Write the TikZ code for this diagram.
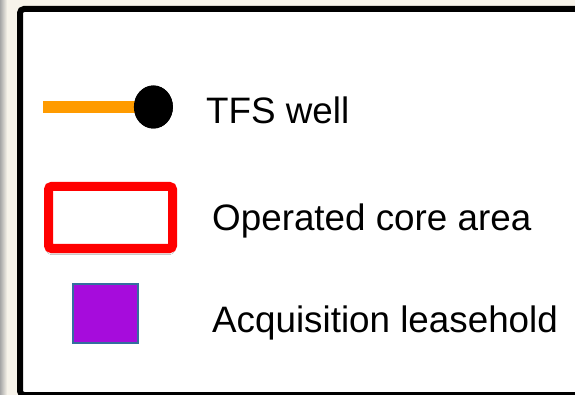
\documentclass[tikz,border=0pt]{standalone}
\usepackage{fontspec}
\setmainfont{Liberation Sans}
\usepackage{tikz}
\usetikzlibrary{shapes.geometric,shadows.blur}

\definecolor{paper}{RGB}{247,243,234}
\definecolor{wellline}{RGB}{255,155,0}
\definecolor{coreline}{RGB}{255,0,0}
\definecolor{leasefill}{RGB}{166,12,220}
\definecolor{leaseline}{RGB}{52,110,158}

\tikzset{
  legendtext/.style={anchor=base west, inner sep=0pt, font=\fontsize{36.8}{44}\selectfont},
  wellsym/.style={ellipse, fill=black, inner sep=0pt, minimum width=39pt, minimum height=43pt},
  coresym/.style={draw=coreline, line width=9pt, rounded corners=3pt, fill=white,
    minimum width=124pt, minimum height=62pt, inner sep=0pt,
    blur shadow={shadow xshift=0pt, shadow yshift=-4pt, shadow blur steps=6, shadow opacity=30}},
  leasesym/.style={draw=leaseline, line width=1.5pt, fill=leasefill,
    minimum width=65pt, minimum height=59pt, inner sep=0pt}
}

\begin{document}
\begin{tikzpicture}
  \useasboundingbox (0pt,0pt) rectangle (575pt,-395pt);
  % page and left edge
  \fill[paper] (0pt,0pt) rectangle (575pt,-395pt);
  \shade[left color=black!35, right color=paper] (0pt,0pt) rectangle (7pt,-395pt);
  \draw[line width=6pt, rounded corners=4pt, fill=white] (20pt,-9pt) rectangle (585pt,-395pt);

  % symbols
  \draw (153.4pt, -107pt)node[wellsym](well){};
  \coordinate (wellstart) at (43pt,-107.5pt);
  \draw[wellline, line width=12pt] (wellstart) -- (wellstart -| well);
  \fill (well.center) ellipse [x radius=19.5pt, y radius=21.5pt];
  \draw (110.5pt, -217.5pt)node[coresym](core){};
  \draw (105.5pt, -313.5pt)node[leasesym](lease){};

  % labels
  \draw (206pt, -124pt)node[legendtext](welltext){TFS well};
  \draw (212pt, -231pt)node[legendtext](coretext){Operated core area};
  \draw (212pt, -332pt)node[legendtext](leasetext){Acquisition leasehold};
\end{tikzpicture}
\end{document}
